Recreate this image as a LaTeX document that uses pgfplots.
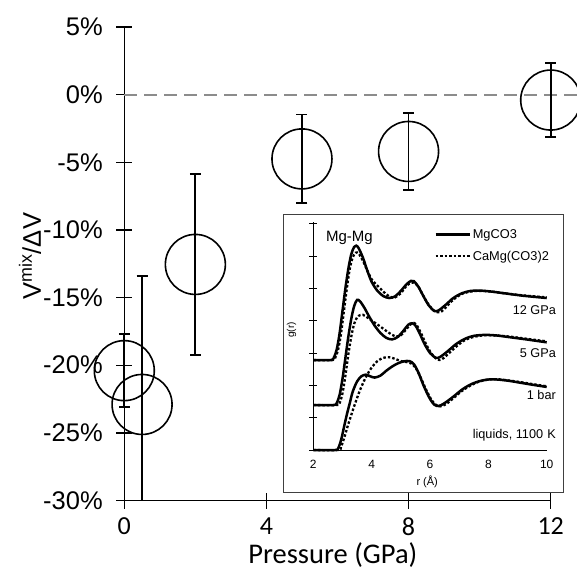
\documentclass[border=0pt]{standalone}
\usepackage{pgfplots}
\pgfplotsset{compat=1.18}
\usepackage{pgfplotstable}
\usepackage{fontspec}
\setmainfont{Liberation Sans}
\newfontfamily\calibri{Carlito}

% excess mixing volume vs pressure
\pgfplotstableread{
x     y       ep     em
0.0   -20.40  2.70   2.70
0.5   -22.90  9.50   7.10
2.0   -12.55  6.68   6.68
5.0   -4.75   3.28   3.28
8.0   -4.20   2.87   2.87
12.0  -0.40   2.75   2.75
}\vmix

\begin{document}
\begin{tikzpicture}
\begin{axis}[
  at={(124.3pt,70.5pt)}, anchor=south west,
  scale only axis, width=426.4pt, height=473.5pt,
  xmin=0, xmax=12, ymin=-30, ymax=5,
  axis x line=bottom, axis y line=left,
  axis line style={-, line width=1.4pt, black},
  tick align=center, major tick length=16pt,
  tick style={black, line width=1.4pt},
  xtick={0,4,8,12}, xticklabels={0,4,8,12},
  ytick={-30,-25,...,5},
  yticklabels={-30\%,-25\%,-20\%,-15\%,-10\%,-5\%,0\%,5\%},
  yticklabel style={font=\fontsize{25.5}{30}\selectfont, xshift=-10pt},
  xticklabel style={font=\calibri\fontsize{26}{30}\selectfont, yshift=-6pt},
  xlabel={Pressure (GPa)},
  ylabel={V\textsuperscript{mix}/ΔV},
  xlabel style={font=\calibri\fontsize{28.5}{32}\selectfont, at={(axis description cs:0.489,-0.115)}, anchor=center},
  ylabel style={font=\fontsize{25.5}{30}\selectfont, at={(axis description cs:-0.221,0.516)}, anchor=center},
  clip=false,
]
\addplot[draw=black!45, line width=1.8pt, dash pattern=on 13pt off 7pt] coordinates {(0,0) (12.75,0)};
\addplot[only marks, mark=o, mark size=30pt, mark options={line width=1.6pt, black},
  error bars/.cd, y dir=both, y explicit,
  error bar style={line width=1.8pt, black},
  error mark=-,
  error mark options={rotate=90, line width=1.8pt, mark size=5.5pt, black}]
  table[x=x, y=y, y error plus=ep, y error minus=em] {\vmix};
\end{axis}

\draw[black!75, line width=0.9pt, fill=white] (283pt,79pt) rectangle (563pt,357pt);

\begin{axis}[
  at={(313.3pt,121pt)}, anchor=south west,
  scale only axis, width=233.4pt, height=228.3pt,
  xmin=2, xmax=10, ymin=0, ymax=7.06,
  axis x line=bottom, axis y line=left,
  axis line style={-, line width=0.9pt, black},
  xtick={2,4,6,8,10}, xticklabels={2,4,6,8,10},
  ytick={0,1,...,7}, yticklabels={},
  x tick style={draw=none},
  y tick style={black, line width=0.8pt},
  tick align=center, major tick length=8pt,
  xticklabel style={font=\fontsize{12}{14}\selectfont, yshift=-3pt},
  xlabel={r (Å)}, ylabel={g(r)},
  xlabel style={font=\fontsize{11}{13}\selectfont, at={(axis description cs:0.488,-0.139)}, anchor=center},
  ylabel style={font=\fontsize{10}{12}\selectfont, at={(axis description cs:-0.093,0.526)}, anchor=center},
  clip=false,
  legend style={at={(axis cs:6.14,6.89)}, anchor=north west, draw=none, fill=none,
    font=\fontsize{12.8}{15}\selectfont, inner sep=0pt, row sep=7pt},
  legend cell align=left,
  legend image code/.code={\draw[#1] (0pt,0pt) -- (34pt,0pt);},
  solid/.style={black, line width=2.5pt, smooth, tension=0.5},
  dots/.style={black, line width=2.3pt, smooth, tension=0.5, dash pattern=on 2.5pt off 2pt},
]
% 12 GPa (offset 2.78)
\addplot[solid] coordinates {
(2,2.78) (2.6,2.78) (2.7,2.85) (2.8,3.1) (2.9,3.6) (3.0,4.3) (3.1,5.0) (3.2,5.6)
(3.3,6.05) (3.4,6.28) (3.47,6.32) (3.55,6.25) (3.7,5.95) (3.85,5.55) (4.0,5.2)
(4.2,4.92) (4.4,4.76) (4.6,4.7) (4.8,4.75) (5.0,4.92) (5.2,5.13) (5.35,5.23)
(5.45,5.22) (5.6,5.05) (5.75,4.8) (5.95,4.48) (6.15,4.3) (6.3,4.32) (6.55,4.5)
(6.8,4.7) (7.1,4.85) (7.4,4.92) (7.7,4.93) (8.1,4.9) (8.6,4.84) (9.2,4.77) (10,4.7)};
\addlegendentry{MgCO3}
\addplot[dots] coordinates {
(2,2.78) (2.65,2.78) (2.75,2.85) (2.85,3.1) (2.95,3.6) (3.05,4.3) (3.15,5.0)
(3.25,5.6) (3.35,5.95) (3.45,6.1) (3.55,6.08) (3.7,5.85) (3.85,5.55) (4.0,5.28)
(4.2,5.08) (4.4,4.9) (4.6,4.75) (4.8,4.72) (5.0,4.85) (5.2,5.08) (5.35,5.17)
(5.45,5.18) (5.6,5.05) (5.75,4.8) (5.95,4.5) (6.15,4.3) (6.35,4.26) (6.55,4.42)
(6.8,4.65) (7.1,4.83) (7.4,4.9) (7.7,4.92) (8.1,4.9) (8.6,4.84) (9.2,4.78) (10,4.72)};
\addlegendentry{CaMg(CO3)2}
% 5 GPa (offset 1.39)
\addplot[solid, forget plot] coordinates {
(2,1.39) (2.7,1.39) (2.8,1.45) (2.9,1.7) (3.0,2.2) (3.1,2.85) (3.2,3.5) (3.3,4.05)
(3.4,4.45) (3.5,4.64) (3.6,4.6) (3.75,4.4) (3.9,4.15) (4.1,3.85) (4.3,3.62)
(4.5,3.47) (4.7,3.42) (4.9,3.5) (5.1,3.7) (5.25,3.87) (5.38,3.92) (5.5,3.85)
(5.65,3.6) (5.8,3.3) (6.0,3.0) (6.2,2.85) (6.35,2.88) (6.6,3.05) (6.9,3.28)
(7.2,3.44) (7.5,3.53) (7.9,3.56) (8.3,3.54) (8.8,3.48) (9.3,3.42) (10,3.33)};
\addplot[dots, forget plot] coordinates {
(2,1.39) (2.8,1.39) (2.9,1.45) (3.0,1.75) (3.1,2.3) (3.2,2.95) (3.3,3.5) (3.4,3.9)
(3.5,4.1) (3.6,4.17) (3.7,4.18) (3.85,4.1) (4.0,4.0) (4.2,3.88) (4.4,3.75)
(4.6,3.62) (4.8,3.52) (5.0,3.55) (5.2,3.75) (5.35,3.9) (5.45,3.93) (5.55,3.85)
(5.7,3.6) (5.85,3.3) (6.05,2.98) (6.25,2.8) (6.4,2.8) (6.6,2.95) (6.9,3.2)
(7.2,3.4) (7.5,3.5) (7.9,3.55) (8.3,3.54) (8.8,3.5) (9.3,3.44) (10,3.36)};
% 1 bar (offset 0)
\addplot[solid, forget plot] coordinates {
(2,0) (2.75,0) (2.85,0.05) (2.95,0.3) (3.05,0.7) (3.15,1.1) (3.25,1.45) (3.35,1.8)
(3.5,2.12) (3.65,2.28) (3.8,2.33) (3.95,2.28) (4.1,2.24) (4.3,2.3) (4.5,2.45)
(4.7,2.58) (4.9,2.68) (5.1,2.74) (5.3,2.75) (5.45,2.65) (5.6,2.4) (5.8,1.95)
(6.0,1.58) (6.15,1.4) (6.3,1.36) (6.5,1.45) (6.8,1.65) (7.1,1.87) (7.4,2.03)
(7.7,2.13) (8.0,2.18) (8.3,2.18) (8.7,2.14) (9.1,2.08) (9.5,2.02) (10,1.95)};
\addplot[dots, forget plot] coordinates {
(2,0) (2.85,0) (2.95,0.1) (3.05,0.35) (3.2,0.8) (3.4,1.35) (3.6,1.85) (3.8,2.25)
(4.0,2.55) (4.2,2.75) (4.4,2.85) (4.6,2.87) (4.8,2.82) (5.0,2.75) (5.2,2.72)
(5.35,2.68) (5.5,2.55) (5.65,2.3) (5.85,1.9) (6.05,1.55) (6.2,1.4) (6.35,1.35)
(6.55,1.42) (6.8,1.6) (7.1,1.83) (7.4,2.0) (7.7,2.12) (8.0,2.18) (8.3,2.19)
(8.7,2.15) (9.1,2.1) (9.5,2.04) (10,1.97)};
\node[anchor=west, font=\fontsize{15}{18}\selectfont, inner sep=0pt] at (axis cs:2.43,6.55) {Mg-Mg};
\node[anchor=east, font=\fontsize{12.7}{15}\selectfont, inner sep=0pt] at (axis cs:10.32,4.32) {12 GPa};
\node[anchor=east, font=\fontsize{12.7}{15}\selectfont, inner sep=0pt] at (axis cs:10.32,2.99) {5 GPa};
\node[anchor=east, font=\fontsize{12.7}{15}\selectfont, inner sep=0pt] at (axis cs:10.32,1.70) {1 bar};
\node[anchor=east, font=\fontsize{12.7}{15}\selectfont, inner sep=0pt] at (axis cs:10.32,0.46) {liquids, 1100\,\,K};
\end{axis}
\pgfresetboundingbox
\path[use as bounding box] (0pt,0pt) rectangle (577pt,571pt);
\end{tikzpicture}
\end{document}
